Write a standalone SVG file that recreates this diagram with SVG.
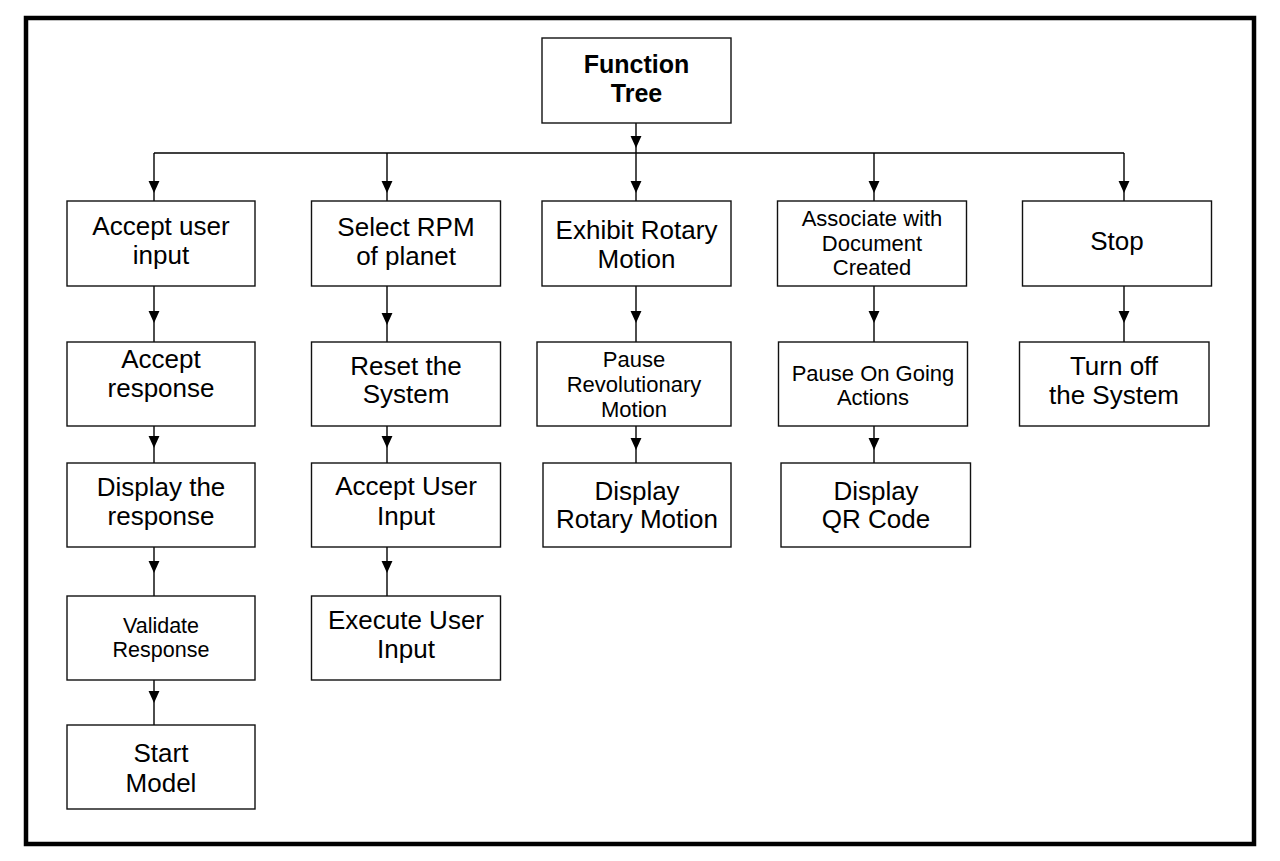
<svg xmlns="http://www.w3.org/2000/svg" width="1280" height="861" viewBox="0 0 1280 861">
<style>
.box{fill:#fff;stroke:#111;stroke-width:1.4}
.t{font-family:"Liberation Sans",Arial,sans-serif;font-size:26px;text-anchor:middle;fill:#000}
.s{font-size:22px}
.xs{font-size:21.5px}
.b{font-weight:bold;font-size:25px}
.c{fill:none;stroke:#000;stroke-width:1.4}
</style>
<defs>
<marker id="ah" markerUnits="userSpaceOnUse" markerWidth="12" markerHeight="12" viewBox="0 0 11 10" refX="11" refY="5" orient="auto">
<path d="M0,0 L11,5 L0,10 z" fill="#000"/>
</marker>
</defs>
<rect x="0" y="0" width="1280" height="861" fill="#fff"/>
<rect x="26" y="18" width="1228" height="826" fill="none" stroke="#000" stroke-width="4.5"/>
<g id="connectors">
<path class="c" d="M154,153 L1124,153"/>
<path class="c" marker-mid="url(#ah)" d="M636,123 L636,148 L636,153"/>
<path class="c" marker-mid="url(#ah)" d="M154,153 L154,193 L154,201"/>
<path class="c" marker-mid="url(#ah)" d="M387,153 L387,193 L387,201"/>
<path class="c" marker-mid="url(#ah)" d="M636,153 L636,193 L636,201"/>
<path class="c" marker-mid="url(#ah)" d="M874,153 L874,193 L874,201"/>
<path class="c" marker-mid="url(#ah)" d="M1124,153 L1124,193 L1124,201"/>
<path class="c" marker-mid="url(#ah)" d="M154,286 L154,323 L154,342"/>
<path class="c" marker-mid="url(#ah)" d="M154,426 L154,448 L154,463"/>
<path class="c" marker-mid="url(#ah)" d="M154,547 L154,573 L154,596"/>
<path class="c" marker-mid="url(#ah)" d="M154,680 L154,703 L154,725"/>
<path class="c" marker-mid="url(#ah)" d="M387,286 L387,325 L387,342"/>
<path class="c" marker-mid="url(#ah)" d="M387,426 L387,448 L387,463"/>
<path class="c" marker-mid="url(#ah)" d="M387,547 L387,573 L387,596"/>
<path class="c" marker-mid="url(#ah)" d="M636,286 L636,323 L636,342"/>
<path class="c" marker-mid="url(#ah)" d="M636,426 L636,450 L636,463"/>
<path class="c" marker-mid="url(#ah)" d="M874,286 L874,323 L874,342"/>
<path class="c" marker-mid="url(#ah)" d="M874,426 L874,450 L874,463"/>
<path class="c" marker-mid="url(#ah)" d="M1124,286 L1124,323 L1124,342"/>
</g>
<g id="n-root"><rect class="box" x="542" y="38" width="189" height="85"/>
<text class="t b" x="636.5" y="72.7">Function</text><text class="t b" x="636.5" y="101.7">Tree</text></g>

<g id="n-accept-user-input"><rect class="box" x="67" y="201" width="188" height="85"/>
<text class="t" x="161" y="235">Accept user</text><text class="t" x="161" y="263.5">input</text></g>
<g id="n-accept-response"><rect class="box" x="67" y="342" width="188" height="84"/>
<text class="t" x="161" y="368">Accept</text><text class="t" x="161" y="396.7">response</text></g>
<g id="n-display-response"><rect class="box" x="67" y="463" width="188" height="84"/>
<text class="t" x="161" y="496">Display the</text><text class="t" x="161" y="525">response</text></g>
<g id="n-validate"><rect class="box" x="67" y="596" width="188" height="84"/>
<text class="t xs" x="161" y="632.7">Validate</text><text class="t xs" x="161" y="657.3">Response</text></g>
<g id="n-start"><rect class="box" x="67" y="725" width="188" height="84"/>
<text class="t" x="161" y="762.3">Start</text><text class="t" x="161" y="791.7">Model</text></g>

<g id="n-select-rpm"><rect class="box" x="311.5" y="201" width="189" height="85"/>
<text class="t" x="406" y="235.7">Select RPM</text><text class="t" x="406" y="265">of planet</text></g>
<g id="n-reset"><rect class="box" x="311.5" y="342" width="189" height="84"/>
<text class="t" x="406" y="375">Reset the</text><text class="t" x="406" y="403.3">System</text></g>
<g id="n-accept-user-input2"><rect class="box" x="311.5" y="463" width="189" height="84"/>
<text class="t" x="406" y="495">Accept User</text><text class="t" x="406" y="524.5">Input</text></g>
<g id="n-execute"><rect class="box" x="311.5" y="596" width="189" height="84"/>
<text class="t" x="406" y="629.3">Execute User</text><text class="t" x="406" y="658.3">Input</text></g>

<g id="n-exhibit"><rect class="box" x="542" y="201" width="189" height="85"/>
<text class="t" x="636.5" y="239">Exhibit Rotary</text><text class="t" x="636.5" y="267.7">Motion</text></g>
<g id="n-pause-rev"><rect class="box" x="537" y="342" width="194" height="84"/>
<text class="t s" x="634" y="367">Pause</text><text class="t s" x="634" y="391.7">Revolutionary</text><text class="t s" x="634" y="416.7">Motion</text></g>
<g id="n-display-rotary"><rect class="box" x="543" y="463" width="188" height="84"/>
<text class="t" x="637" y="500">Display</text><text class="t" x="637" y="528.3">Rotary Motion</text></g>

<g id="n-associate"><rect class="box" x="777.5" y="201" width="189" height="85"/>
<text class="t s" x="872" y="226">Associate with</text><text class="t s" x="872" y="251">Document</text><text class="t s" x="872" y="275">Created</text></g>
<g id="n-pause-going"><rect class="box" x="778.5" y="342" width="189" height="84"/>
<text class="t s" x="873" y="380.5">Pause On Going</text><text class="t s" x="873" y="405">Actions</text></g>
<g id="n-display-qr"><rect class="box" x="781" y="463" width="189.5" height="84"/>
<text class="t" x="876" y="500">Display</text><text class="t" x="876" y="528">QR Code</text></g>

<g id="n-stop"><rect class="box" x="1022.5" y="201" width="189" height="85"/>
<text class="t" x="1117" y="250">Stop</text></g>
<g id="n-turn-off"><rect class="box" x="1019.5" y="342" width="189.5" height="84"/>
<text class="t" x="1114" y="375">Turn off</text><text class="t" x="1114" y="404">the System</text></g>
</svg>
